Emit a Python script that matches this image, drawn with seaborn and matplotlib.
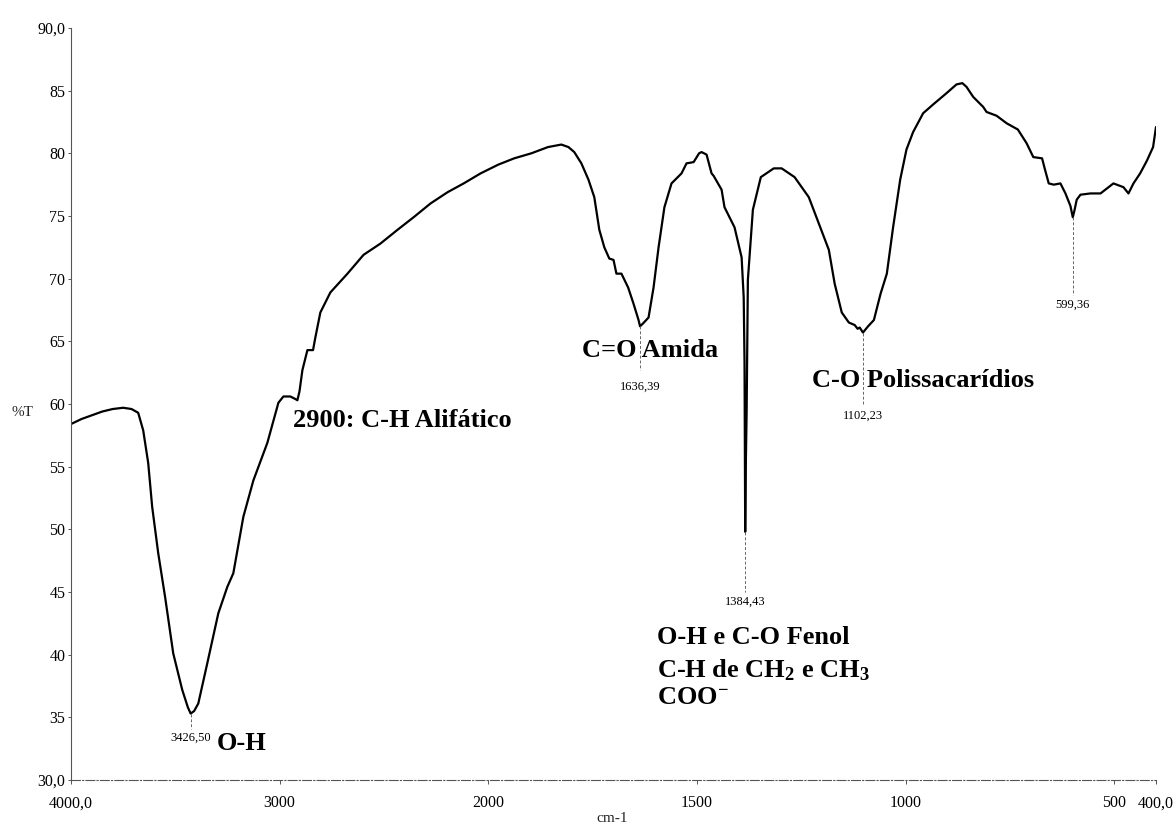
import numpy as np
import pandas as pd
import matplotlib
matplotlib.use("Agg")
import matplotlib.pyplot as plt
import seaborn as sns

# ---- data ----
wavenumber = [
    4000, 3950, 3900, 3850, 3800, 3750, 3710, 3678, 3654, 3630, 3611, 3582, 3549, 3510,
    3485, 3467, 3440, 3426.5, 3410, 3390, 3347, 3294, 3251, 3222, 3174, 3126, 3059, 3006, 2982,
    2949, 2925, 2915, 2905, 2891, 2867, 2840, 2829, 2805, 2757, 2675, 2598, 2517, 2435,
    2358, 2277, 2195, 2118, 2037, 1976, 1938, 1897, 1857, 1825, 1808, 1794, 1777, 1760,
    1746, 1734, 1722, 1710, 1700, 1693, 1681, 1665, 1652, 1640, 1636.4, 1630, 1616, 1604,
    1592, 1578, 1561, 1537, 1525, 1508, 1495, 1489, 1477, 1465, 1460, 1441, 1434, 1410,
    1393, 1388, 1386, 1384.4, 1383, 1381, 1378, 1366, 1347, 1316, 1297, 1266, 1232, 1208,
    1184, 1170, 1153, 1136, 1122, 1115, 1110, 1102.2, 1090, 1076, 1060, 1045, 1030, 1013,
    998, 982, 958, 934, 902, 878, 864, 854, 838, 814, 806, 782, 758, 731, 710, 694, 673,
    666, 657, 645, 629, 617, 605, 599.4, 595, 590, 581, 557, 533, 502, 478, 466, 454, 438,
    422, 407, 400,
]
transmittance = [
    58.4, 58.8, 59.1, 59.4, 59.6, 59.7, 59.6, 59.3, 57.9, 55.3, 51.8, 48.1, 44.6, 40.1,
    38.4, 37.2, 35.8, 35.3, 35.5, 36.1, 39.3, 43.3, 45.4, 46.5, 51.0, 53.9, 56.9, 60.1, 60.6,
    60.6, 60.4, 60.3, 61.0, 62.7, 64.3, 64.3, 65.3, 67.3, 68.9, 70.4, 71.9, 72.8, 73.9,
    74.9, 76.0, 76.9, 77.6, 78.4, 79.1, 79.6, 80.0, 80.5, 80.7, 80.5, 80.1, 79.2, 77.9,
    76.5, 73.9, 72.5, 71.6, 71.5, 70.4, 70.4, 69.3, 68.0, 66.7, 66.2, 66.4, 66.9, 69.3,
    72.5, 75.7, 77.6, 78.4, 79.2, 79.3, 80.0, 80.1, 79.9, 78.4, 78.2, 77.1, 75.7, 74.1,
    71.7, 68.5, 63.3, 49.8, 55.0, 59.3, 69.9, 75.5, 78.1, 78.8, 78.8, 78.1, 76.5, 74.4,
    72.3, 69.6, 67.3, 66.5, 66.3, 66.0, 66.1, 65.7, 66.2, 66.7, 68.8, 70.4, 74.1, 77.9,
    80.3, 81.7, 83.2, 83.9, 84.8, 85.5, 85.6, 85.3, 84.5, 83.7, 83.3, 83.0, 82.4, 81.9, 80.8, 79.7, 79.6,
    78.7, 77.6, 77.5, 77.6, 76.8, 75.8, 74.9, 75.5, 76.3, 76.7, 76.8, 76.8, 77.6, 77.3, 76.8, 77.6, 78.4,
    79.4, 80.5, 82.1,
]

peak_wn = [3426.50, 1636.39, 1384.43, 1102.23, 599.36]
peak_T = [35.3, 66.2, 49.8, 65.7, 74.9]
peak_text = ["3426,50", "1636,39", "1384,43", "1102,23", "599,36"]
peak_line_end = [34.1, 62.7, 45.0, 59.9, 68.7]
peak_label_y = [33.4, 61.35, 44.2, 59.1, 67.9]

xtick_vals = [4000, 3000, 2000, 1500, 1000, 500, 400]
xtick_text = ["4000,0", "3000", "2000", "1500", "1000", "500", "400,0"]
ytick_vals = [30, 35, 40, 45, 50, 55, 60, 65, 70, 75, 80, 85, 90]
ytick_text = ["30,0", "35", "40", "45", "50", "55", "60", "65", "70", "75", "80", "85", "90,0"]

band_text = ["O-H", "2900: C-H Alifático", "C=O Amida", "C-O Polissacarídios",
             "O-H e C-O Fenol", r"C-H de CH$_\mathbf{2}$ e CH$_\mathbf{3}$", r"COO$^{\mathbf{-}}$"]
band_x = [3300, 2936, 1775, 1224, 1596, 1596, 1596]
band_y = [32.9, 58.7, 64.3, 61.9, 41.4, 38.8, 36.6]

# ---- style ----
sns.set_theme(style="white")
plt.rcParams["font.family"] = ["Liberation Serif", "DejaVu Serif"]
plt.rcParams["mathtext.fontset"] = "custom"
plt.rcParams["mathtext.rm"] = "Liberation Serif:bold"
plt.rcParams["mathtext.bf"] = "Liberation Serif:bold"
plt.rcParams["mathtext.default"] = "rm"

W, H = 1176, 827
fig = plt.figure(figsize=(W / 100, H / 100), dpi=100)
ax = fig.add_axes([71 / W, 1 - 780 / H, 1085 / W, 752 / H])


def fwd(w):
    w = np.asarray(w, dtype=float)
    return np.where(w >= 2000, w, 2 * w - 2000)


def inv(u):
    u = np.asarray(u, dtype=float)
    return np.where(u >= 2000, u, (u + 2000) / 2)


ax.set_xscale("function", functions=(fwd, inv))

df = pd.DataFrame({"wn": wavenumber, "T": transmittance})
sns.lineplot(data=df, x="wn", y="T", sort=False, estimator=None, color="black",
             linewidth=1.6, ax=ax)
for ln in ax.get_lines():
    ln.set_solid_joinstyle("round")

ax.set_xlim(4000, 400)
ax.set_ylim(30, 90)
ax.set_xticks(xtick_vals)
ax.set_xticklabels(xtick_text, fontsize=11.5)
ax.set_yticks(ytick_vals)
ax.set_yticklabels(ytick_text, fontsize=11.5)
ax.minorticks_off()
ax.set_xlabel("")
ax.set_ylabel("")

for s in ["top", "right"]:
    ax.spines[s].set_visible(False)
ax.spines["left"].set_color("#555555")
ax.spines["left"].set_linewidth(0.8)
ax.spines["bottom"].set_color("#555555")
ax.spines["bottom"].set_linewidth(0.8)
ax.spines["bottom"].set_linestyle((0, (8, 2, 1, 2)))
ax.tick_params(axis="x", direction="out", length=3, width=0.7, pad=8, colors="#555555",
               labelcolor="black", bottom=True)
ax.tick_params(axis="y", direction="out", length=2, width=0.7, pad=2, colors="#555555",
               labelcolor="black", left=True)

# peak markers
for wn, t, ye, yl, txt in zip(peak_wn, peak_T, peak_line_end, peak_label_y, peak_text):
    ax.plot([wn, wn], [t, ye], color="#666666", linewidth=0.7, linestyle=(0, (3, 2)))
    ax.text(wn, yl, txt, fontsize=9, ha="center", va="center", color="black")

# band annotations
for txt, bx, by in zip(band_text, band_x, band_y):
    ax.text(bx, by, txt, fontsize=19, fontweight="bold", ha="left", va="center", color="black")

fig.text(22 / W, 1 - 412 / H, "%T", fontsize=11, ha="center", va="center")
fig.text(612 / W, 1 - 818 / H, "cm-1", fontsize=11, ha="center", va="center")

fig.savefig("out.png", dpi=100)
